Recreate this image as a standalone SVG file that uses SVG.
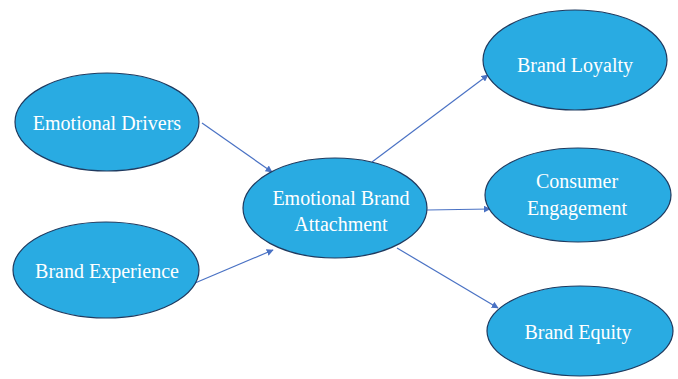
<svg xmlns="http://www.w3.org/2000/svg" width="678" height="379" viewBox="0 0 678 379">
  <style>
    .node ellipse { fill: #29abe2; stroke: #1f3a5f; stroke-width: 1.2; }
    .node text { font-family: "Liberation Serif", "Times New Roman", serif; font-size: 20px; fill: #ffffff; text-anchor: middle; }
    .edge { stroke: #4a72c4; stroke-width: 1.2; fill: none; marker-end: url(#arrow); }
  </style>
  <defs>
    <marker id="arrow" viewBox="0 0 10 10" refX="9" refY="5" markerWidth="7" markerHeight="7" markerUnits="userSpaceOnUse" orient="auto">
      <path d="M0,0 L10,5 L0,10 z" fill="#4a72c4"/>
    </marker>
  </defs>
  <rect width="678" height="379" fill="#ffffff"/>

  <g id="connectors">
    <line class="edge" x1="202" y1="123" x2="272" y2="172"/>
    <line class="edge" x1="195" y1="283" x2="273" y2="250"/>
    <line class="edge" x1="372" y1="162" x2="488" y2="75"/>
    <line class="edge" x1="427" y1="210" x2="490" y2="209"/>
    <line class="edge" x1="397" y1="248" x2="498" y2="308"/>
  </g>

  <g id="emotional-drivers" class="node">
    <ellipse cx="107" cy="122" rx="92" ry="49"/>
    <text x="107" y="130">Emotional Drivers</text>
  </g>

  <g id="brand-experience" class="node">
    <ellipse cx="106" cy="270" rx="93" ry="48"/>
    <text x="107" y="278">Brand Experience</text>
  </g>

  <g id="emotional-brand-attachment" class="node">
    <ellipse cx="335" cy="208" rx="92" ry="50"/>
    <text x="341" y="205">Emotional Brand</text>
    <text x="341" y="231">Attachment</text>
  </g>

  <g id="brand-loyalty" class="node">
    <ellipse cx="575" cy="60" rx="92" ry="50"/>
    <text x="575" y="72">Brand Loyalty</text>
  </g>

  <g id="consumer-engagement" class="node">
    <ellipse cx="578" cy="195" rx="93" ry="47"/>
    <text x="577" y="188">Consumer</text>
    <text x="577" y="215">Engagement</text>
  </g>

  <g id="brand-equity" class="node">
    <ellipse cx="580" cy="331" rx="93" ry="45"/>
    <text x="578" y="339">Brand Equity</text>
  </g>
</svg>
